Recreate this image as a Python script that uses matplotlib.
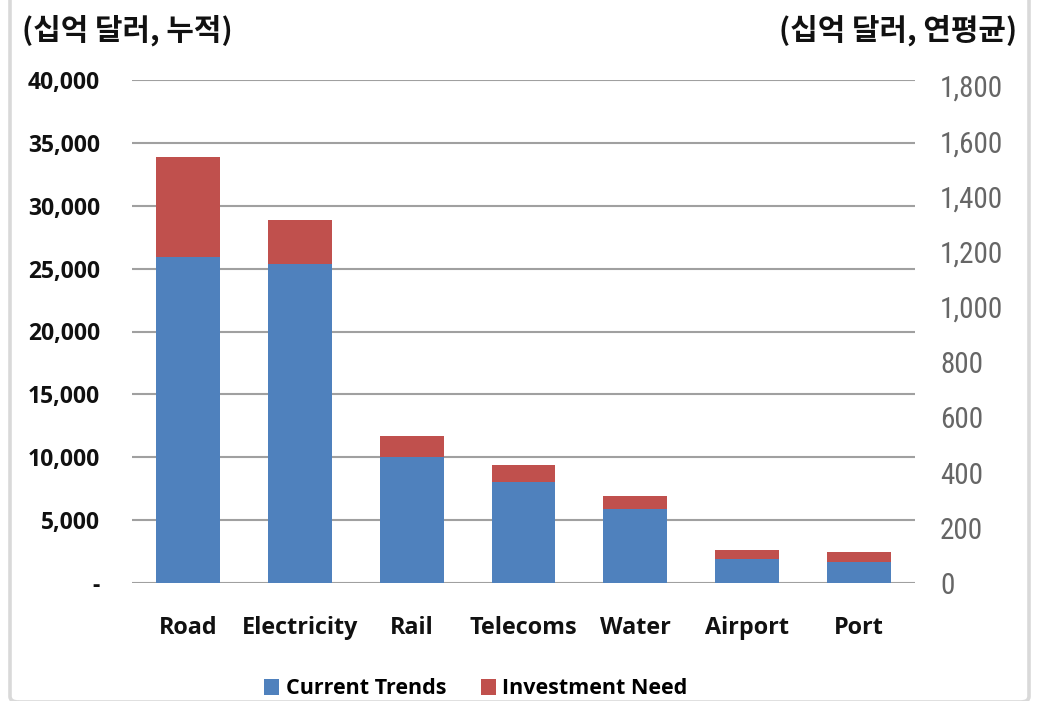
import matplotlib
matplotlib.use("Agg")
import matplotlib.pyplot as plt
from matplotlib import font_manager
from matplotlib.patches import FancyBboxPatch, Patch
from matplotlib.ticker import FixedLocator, FuncFormatter

# ---- data (billion USD, cumulative) ----
categories = ["Road", "Electricity", "Rail", "Telecoms", "Water", "Airport", "Port"]
current_trends = [25900, 25400, 10000, 8000, 5900, 1900, 1700]
investment_gap = [8000, 3500, 1700, 1400, 1000, 700, 800]
left_ticks = [0, 5000, 10000, 15000, 20000, 25000, 30000, 35000, 40000]
right_ticks = [0, 200, 400, 600, 800, 1000, 1200, 1400, 1600, 1800]
series_labels = ["Current Trends", "Investment Need"]
left_title = "(십억 달러, 누적)"
right_title = "(십억 달러, 연평균)"

BLUE = "#4F81BD"
RED = "#C0504D"
GRID = "#A0A0A0"

installed = {f.name for f in font_manager.fontManager.ttflist}


def pick(*names):
    for n in names:
        if n in installed:
            return n
    return "DejaVu Sans"


LATIN = pick("Open Sans", "Lato", "DejaVu Sans")
NARROW = pick("Liberation Sans Narrow", "Roboto Condensed", "Liberation Sans", "DejaVu Sans")
KOREAN = ["Noto Sans CJK KR", "DejaVu Sans"]

W, H = 1038, 701
fig = plt.figure(figsize=(W / 100, H / 100), dpi=100)
fig.patch.set_facecolor("white")

# light rounded frame around the chart (top edge runs off the canvas)
frame = FancyBboxPatch((10 / W, -1 / H), (1029 - 10) / W, 760 / H,
                       boxstyle="round,pad=0,rounding_size=0.008",
                       transform=fig.transFigure, facecolor="none",
                       edgecolor="#D9D9D9", linewidth=2.6, zorder=0)
fig.patches.append(frame)

left, right, bottom, top = 132, 915, 583, 80
ax = fig.add_axes([left / W, 1 - bottom / H, (right - left) / W, (bottom - top) / H])

x = list(range(len(categories)))
bar_w = 0.572
ax.bar(x, current_trends, width=bar_w, color=BLUE, zorder=3, label=series_labels[0])
ax.bar(x, investment_gap, width=bar_w, bottom=current_trends, color=RED, zorder=3,
       label=series_labels[1])

ax.set_xlim(-0.5, len(categories) - 0.5)
ax.set_ylim(0, 40000)
ax.yaxis.set_major_locator(FixedLocator(left_ticks))
ax.yaxis.set_major_formatter(FuncFormatter(lambda v, p: "-" if v == 0 else f"{int(v):,}"))
ax.grid(axis="y", color=GRID, linewidth=1.5, zorder=1)
for s in ax.spines.values():
    s.set_visible(False)
ax.tick_params(axis="y", length=0, pad=23, labelsize=16.5)
ax.tick_params(axis="x", length=0, pad=24, labelsize=16.8)
ax.set_xticks(x)
ax.set_xticklabels(categories)
for lab in ax.get_yticklabels() + ax.get_xticklabels():
    lab.set_fontfamily(LATIN)
    lab.set_fontweight("bold")
    lab.set_color("#111111")

# secondary axis: annual average
ax2 = ax.twinx()
ax2.set_ylim(0, 1822)
ax2.yaxis.set_major_locator(FixedLocator(right_ticks))
ax2.yaxis.set_major_formatter(FuncFormatter(lambda v, p: f"{int(v):,}"))
for s in ax2.spines.values():
    s.set_visible(False)
right_size = 21 if NARROW in ("Liberation Sans Narrow", "Roboto Condensed") else 19.5
ax2.tick_params(axis="y", length=0, pad=18, labelsize=right_size, labelcolor="#666666")
for lab in ax2.get_yticklabels():
    lab.set_fontfamily(NARROW)

fig.text(22 / W, 1 - 30 / H, left_title, family=KOREAN, fontweight="bold",
         fontsize=21.5, ha="left", va="center", color="#111111")
fig.text(1017 / W, 1 - 30 / H, right_title, family=KOREAN, fontweight="bold",
         fontsize=21.5, ha="right", va="center", color="#111111")

handles = [Patch(facecolor=BLUE), Patch(facecolor=RED)]
leg = fig.legend(handles, series_labels, loc="center", bbox_to_anchor=(476 / W, 1 - 689 / H),
                 ncol=2, frameon=False, handlelength=0.7, handleheight=0.7,
                 handletextpad=0.3, columnspacing=1.6,
                 prop={"family": LATIN, "weight": "bold", "size": 15.5})

fig.savefig("out.png", dpi=100, facecolor="white")
